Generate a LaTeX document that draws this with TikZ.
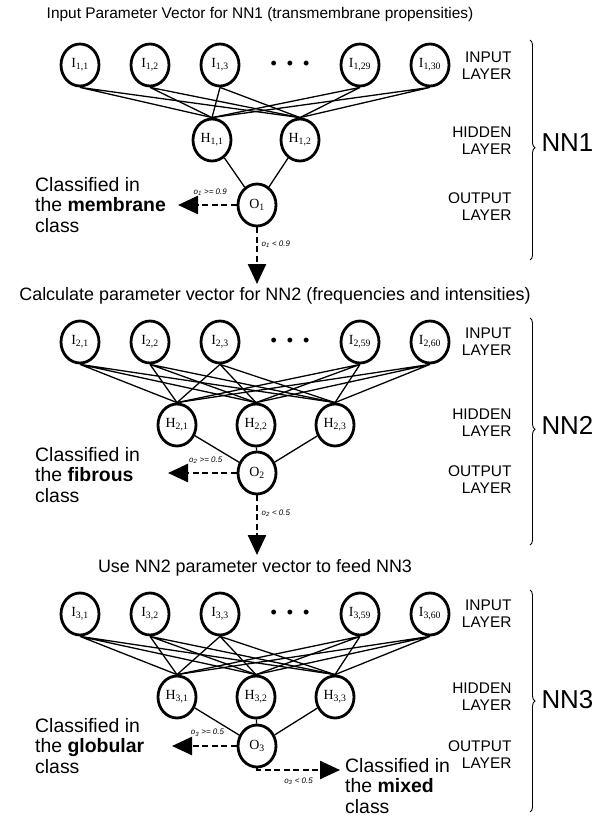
\documentclass[tikz,border=0pt]{standalone}
\usepackage{fontspec}
\setmainfont{Liberation Sans}
\newfontfamily\nodefont{Liberation Serif}
\usetikzlibrary{positioning, shapes.geometric, arrows.meta, decorations.pathreplacing}

\begin{document}
\begin{tikzpicture}[x=1bp, y=-1bp, node distance={70bp},
  main/.style = {draw, ellipse, line width=2.8bp, minimum width=38bp, minimum height=42bp, inner sep=0pt, font=\nodefont\fontsize{14}{14}\selectfont},
  link/.style = {line width=1.3bp},
  dasharrow/.style = {dash pattern=on 6bp off 3.5bp, line width=2.5bp, -{Triangle[length=20bp,width=18bp]}},
  title/.style = {font=\fontsize{18}{18}\selectfont},
  layer/.style = {anchor=east, align=right, font=\fontsize{15.5}{17}\selectfont},
  result/.style = {anchor=west, align=left, inner sep=0pt, font=\fontsize{19.5}{20.5}\selectfont},
  cond/.style = {font=\itshape\fontsize{8}{8}\selectfont},
  nn/.style = {anchor=west, font=\fontsize{26}{26}\selectfont},
  dotrow/.style = {font=\fontsize{18}{18}\selectfont},
  bracket/.style = {decorate, decoration={brace, amplitude=5bp}, line width=0.9bp}]

\useasboundingbox (0,0) rectangle (595,817);

% NN1
\node[title, font=\fontsize{15.5}{16}\selectfont] (t1) at (260,15) {Input Parameter Vector for NN1 (transmembrane propensities)};
\node[main] (I11) at (80,65) {I\textsubscript{1,1}};
\node[main] (I12) [right of=I11] {I\textsubscript{1,2}};
\node[main] (I13) [right of=I12] {I\textsubscript{1,3}};
\node[dotrow] (d1) [right of=I13] {\textbullet\hspace{10bp}\textbullet\hspace{10bp}\textbullet};
\node[main] (I129) [right of=d1] {I\textsubscript{1,29}};
\node[main] (I130) [right of=I129] {I\textsubscript{1,30}};

\node[main] (H11) at (212,140) {H\textsubscript{1,1}};
\node[main] (H12) at (300,140) {H\textsubscript{1,2}};
\node[main] (O1) at (257,205) {O\textsubscript{1}};

\draw[link] (I11.south) -- (H11.north) (I11.south) -- (H12.north);
\draw[link] (I12.south) -- (H11.north) (I12.south) -- (H12.north);
\draw[link] (I13.south) -- (H11.north) (I13.south) -- (H12.north);
\draw[link] (I129.south) -- (H11.north) (I129.south) -- (H12.north);
\draw[link] (I130.south) -- (H11.north) (I130.south) -- (H12.north);
\draw[link] (H11) -- (O1);
\draw[link] (H12) -- (O1);

\node[result] (c1) at (35,205) {Classified in\\the \textbf{membrane}\\class};
\coordinate (e1) at (178,205);
\coordinate (e2) at (257,284);
\draw[dasharrow] (O1) -- node[cond, above=5bp, pos=0.45] {o\textsubscript{1} >= 0.9} (e1);
\draw[dasharrow] (O1) -- node[cond, right, pos=0.3] {o\textsubscript{1} < 0.9} (e2);

\node[layer] (in1) at (515,66) {INPUT\\LAYER};
\node[layer] (hid1) at (515,141) {HIDDEN\\LAYER};
\node[layer] (out1) at (515,207) {OUTPUT\\LAYER};
\coordinate (b1a) at (530,40);
\coordinate (b1b) at (530,260);
\draw[bracket, decoration={aspect=0.49}] (b1a) -- (b1b);
\node[nn] (nn1) at (538,143) {NN1};

% NN2
\node[title] (t2) at (275,296) {Calculate parameter vector for NN2 (frequencies and intensities)};
\node[main] (I21) at (80,342) {I\textsubscript{2,1}};
\node[main] (I22) [right of=I21] {I\textsubscript{2,2}};
\node[main] (I23) [right of=I22] {I\textsubscript{2,3}};
\node[dotrow] (d2) [right of=I23] {\textbullet\hspace{10bp}\textbullet\hspace{10bp}\textbullet};
\node[main] (I259) [right of=d2] {I\textsubscript{2,59}};
\node[main] (I260) [right of=I259] {I\textsubscript{2,60}};

\node[main] (H21) at (177,425) {H\textsubscript{2,1}};
\node[main] (H22) [right of=H21, node distance=79bp] {H\textsubscript{2,2}};
\node[main] (H23) [right of=H22, node distance=79bp] {H\textsubscript{2,3}};
\node[main] (O2) at (257,473) {O\textsubscript{2}};

\draw[link] (I21.south) -- (H21.north) (I21.south) -- (H22.north) (I21.south) -- (H23.north);
\draw[link] (I22.south) -- (H21.north) (I22.south) -- (H22.north) (I22.south) -- (H23.north);
\draw[link] (I23.south) -- (H21.north) (I23.south) -- (H22.north) (I23.south) -- (H23.north);
\draw[link] (I259.south) -- (H21.north) (I259.south) -- (H22.north) (I259.south) -- (H23.north);
\draw[link] (I260.south) -- (H21.north) (I260.south) -- (H22.north) (I260.south) -- (H23.north);
\draw[link] (H21) -- (O2);
\draw[link] (H22) -- (O2);
\draw[link] (H23) -- (O2);

\node[result] (c2) at (35,475) {Classified in\\the \textbf{fibrous}\\class};
\coordinate (e3) at (168,473);
\coordinate (e4) at (257,555);
\draw[dasharrow] (O2) -- node[cond, above=5bp, pos=0.45] {o\textsubscript{2} >= 0.5} (e3);
\draw[dasharrow] (O2) -- node[cond, right, pos=0.3] {o\textsubscript{2} < 0.5} (e4);

\node[layer] (in2) at (515,342) {INPUT\\LAYER};
\node[layer] (hid2) at (515,423) {HIDDEN\\LAYER};
\node[layer] (out2) at (515,480) {OUTPUT\\LAYER};
\coordinate (b2a) at (530,318);
\coordinate (b2b) at (530,545);
\draw[bracket, decoration={aspect=0.49}] (b2a) -- (b2b);
\node[nn] (nn2) at (538,425) {NN2};

% NN3
\node[title] (t3) at (255,568) {Use NN2 parameter vector to feed NN3};
\node[main] (I31) at (80,614) {I\textsubscript{3,1}};
\node[main] (I32) [right of=I31] {I\textsubscript{3,2}};
\node[main] (I33) [right of=I32] {I\textsubscript{3,3}};
\node[dotrow] (d3) [right of=I33] {\textbullet\hspace{10bp}\textbullet\hspace{10bp}\textbullet};
\node[main] (I359) [right of=d3] {I\textsubscript{3,59}};
\node[main] (I360) [right of=I359] {I\textsubscript{3,60}};

\node[main] (H31) at (177,697) {H\textsubscript{3,1}};
\node[main] (H32) [right of=H31, node distance=79bp] {H\textsubscript{3,2}};
\node[main] (H33) [right of=H32, node distance=79bp] {H\textsubscript{3,3}};
\node[main] (O3) at (257,746) {O\textsubscript{3}};

\draw[link] (I31.south) -- (H31.north) (I31.south) -- (H32.north) (I31.south) -- (H33.north);
\draw[link] (I32.south) -- (H31.north) (I32.south) -- (H32.north) (I32.south) -- (H33.north);
\draw[link] (I33.south) -- (H31.north) (I33.south) -- (H32.north) (I33.south) -- (H33.north);
\draw[link] (I359.south) -- (H31.north) (I359.south) -- (H32.north) (I359.south) -- (H33.north);
\draw[link] (I360.south) -- (H31.north) (I360.south) -- (H32.north) (I360.south) -- (H33.north);
\draw[link] (H31) -- (O3);
\draw[link] (H32) -- (O3);
\draw[link] (H33) -- (O3);

\node[result] (c3) at (35,746) {Classified in\\the \textbf{globular}\\class};
\node[result] (c4) at (345,786) {Classified in\\the \textbf{mixed}\\class};
\coordinate (e5) at (172,746);
\coordinate (e6) at (340,770);
\draw[dasharrow] (O3) -- node[cond, above=5bp, pos=0.45] {o\textsubscript{3} >= 0.5} (e5);
\draw[dasharrow] (O3.south) |- node[cond, below=3bp, pos=0.75] {o\textsubscript{3} < 0.5} (e6);

\node[layer] (in3) at (515,614) {INPUT\\LAYER};
\node[layer] (hid3) at (515,697) {HIDDEN\\LAYER};
\node[layer] (out3) at (515,755) {OUTPUT\\LAYER};
\coordinate (b3a) at (530,590);
\coordinate (b3b) at (530,812);
\draw[bracket, decoration={aspect=0.5}] (b3a) -- (b3b);
\node[nn] (nn3) at (538,700) {NN3};

\end{tikzpicture}
\end{document}
